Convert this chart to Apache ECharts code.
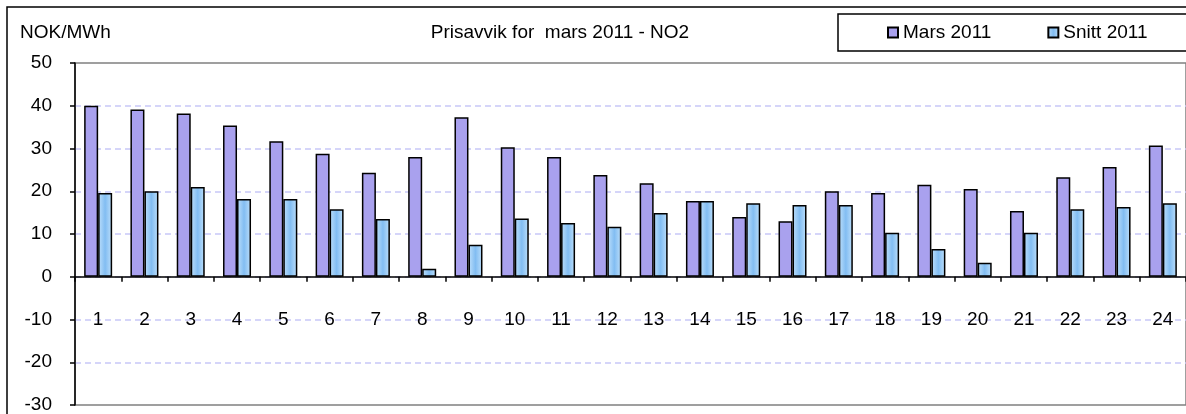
<!DOCTYPE html>
<html>
<head>
<meta charset="utf-8">
<script src="https://cdn.jsdelivr.net/npm/echarts@6/dist/echarts.min.js"></script>
<style>
  html, body { margin: 0; padding: 0; background: #fff; }
  #main { width: 1186px; height: 414px; }
</style>
</head>
<body>
<div id="main"></div>
<script>
  var hours = ['1','2','3','4','5','6','7','8','9','10','11','12','13','14','15','16','17','18','19','20','21','22','23','24'];
  var mars2011 = [40.0, 39.1, 38.2, 35.4, 31.7, 28.8, 24.3, 28.0, 37.3, 30.3, 28.0, 23.8, 21.9, 17.7, 14.0, 13.0, 20.0, 19.6, 21.5, 20.5, 15.4, 23.3, 25.7, 30.7];
  var snitt2011 = [19.6, 20.0, 21.0, 18.2, 18.2, 15.8, 13.5, 1.9, 7.5, 13.6, 12.6, 11.7, 14.9, 17.7, 17.2, 16.8, 16.8, 10.3, 6.5, 3.3, 10.3, 15.8, 16.3, 17.2];

  var chart = echarts.init(document.getElementById('main'));
  var font = 'Liberation Sans, Arial, sans-serif';

  var option = {
    animation: false,
    textStyle: { fontFamily: font },
    graphic: [
      {
        type: 'rect',
        shape: { x: 7, y: 7, width: 1200, height: 420 },
        style: { fill: 'none', stroke: '#000', lineWidth: 1.5 }
      },
      {
        type: 'text',
        left: 20, top: 23,
        style: { text: 'NOK/MWh', fontSize: 19, fontFamily: font, fill: '#000' }
      }
    ],
    title: {
      text: 'Prisavvik for  mars 2011 - NO2',
      left: 555, top: 18,
      textAlign: 'center',
      textStyle: { fontSize: 19, fontWeight: 'normal', color: '#000', fontFamily: font }
    },
    legend: {
      left: 838, top: 14,
      width: 320,
      orient: 'horizontal',
      padding: [9, 48, 9, 49],
      borderColor: '#000',
      borderWidth: 1.5,
      itemWidth: 10, itemHeight: 10,
      itemGap: 56,
      icon: 'rect',
      textStyle: { fontSize: 19, color: '#000', fontFamily: font },
      data: ['Mars 2011', 'Snitt 2011']
    },
    grid: {
      left: 75, top: 63, right: 0, bottom: 9,
      containLabel: false,
      outerBoundsMode: 'none',
      show: true,
      borderColor: '#808080',
      borderWidth: 1.5,
      backgroundColor: 'transparent'
    },
    xAxis: {
      type: 'category',
      data: hours,
      axisLine: { onZero: true, lineStyle: { color: '#000', width: 1.5 } },
      axisTick: { show: true, length: 5, lineStyle: { color: '#000', width: 1.5 } },
      // labels sit on the -10 row, well under the zero line
      axisLabel: { margin: -95, fontSize: 19, color: '#000', fontFamily: font }
    },
    yAxis: {
      type: 'value',
      min: -30, max: 50, interval: 10,
      axisLine: { show: true, lineStyle: { color: '#000', width: 1.5 } },
      axisTick: { show: true, length: 5, lineStyle: { color: '#000', width: 1.5 } },
      axisLabel: { margin: 23, fontSize: 19, color: '#000', fontFamily: font },
      splitLine: {
        show: true,
        showMinLine: false,
        showMaxLine: false,
        lineStyle: { color: '#c8c8f8', type: [6, 4], width: 1.5 }
      }
    },
    series: [
      {
        name: 'Mars 2011',
        type: 'bar',
        data: mars2011,
        barWidth: 14,
        barGap: '0%',
        itemStyle: { color: '#a9a1ee', borderColor: '#000', borderWidth: 1.5 }
      },
      {
        name: 'Snitt 2011',
        type: 'bar',
        data: snitt2011,
        barWidth: 14,
        itemStyle: {
          color: new echarts.graphic.LinearGradient(0, 0, 1, 0, [
            { offset: 0, color: '#bfe0fb' },
            { offset: 0.5, color: '#82bdf2' },
            { offset: 1, color: '#bfe0fb' }
          ]),
          borderColor: '#000',
          borderWidth: 1.5
        }
      }
    ]
  };

  chart.setOption(option);
</script>
</body>
</html>
